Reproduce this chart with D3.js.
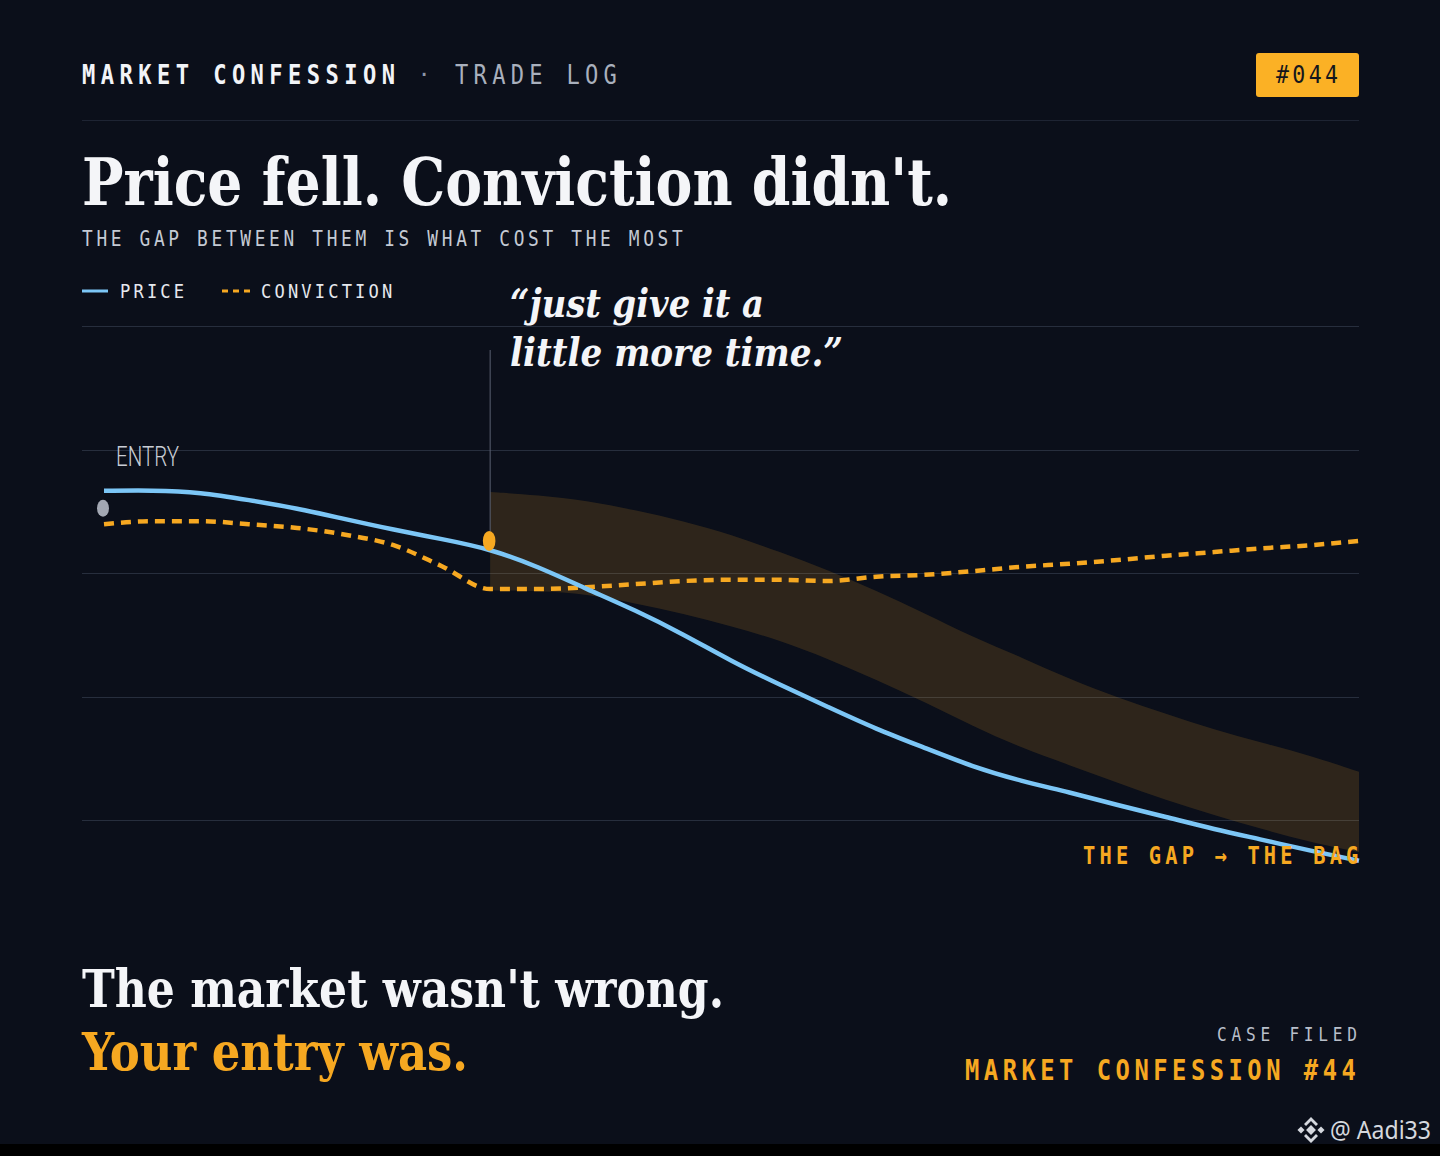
<!DOCTYPE html>
<html>
<head>
<meta charset="utf-8">
<script src="https://cdn.jsdelivr.net/npm/d3@7"></script>
<style>
  html, body { margin: 0; padding: 0; background: #000; }
  svg { display: block; }
</style>
</head>
<body>
<script>
// days since entry
var days = [0,1,2,3,4,5,6,7,8,9,10,11,12,13,14,15,16,17,18,19,20,21,22,23,24,25,26];

// price, indexed
var price = [113.3,113.4,113.1,111.8,110.5,108.7,107.0,105.5,103.9,101.0,97.4,94.0,90.1,85.7,81.9,
             78.3,74.7,71.7,68.6,66.3,64.5,62.4,60.5,58.5,56.8,55.0,53.4];

// conviction, indexed
var conviction = [107.9,108.4,108.4,107.9,107.3,106.2,104.5,101.1,97.4,97.4,97.7,98.2,98.7,98.9,98.9,
                  98.7,99.4,99.7,100.3,101.0,101.5,102.1,102.8,103.4,104.0,104.5,105.2];

// the gap band, from day 8 on
var gapDays = [8,9,10,11,12,13,14,15,16,17,18,19,20,21,22,23,24,25,26];
var gapTop = [113.1,112.6,111.7,110.2,108.4,106.2,103.4,100.5,97.1,93.5,89.6,86.4,82.8,79.8,77.2,74.6,72.5,70.4,67.8];
var gapBottom = [97.2,97.1,96.6,95.1,93.4,91.4,89.1,86.1,82.7,79.1,75.2,71.7,68.9,66.0,63.2,60.8,58.5,56.4,54.8];

var gridTicks = [60,80,100,120,140];

var entryPoint = {day: 0, value: 110.5};
var holdPoint = {day: 8, value: 105.2};

var W = 1440, H = 1156;
var bg = "#0b0f1a";
var orange = "#f6a821";
var blue = "#7cc6f6";
var serif = "'DejaVu Serif Condensed', 'DejaVu Serif', serif";
var mono = "'DejaVu Sans Mono', monospace";

// text helper; sx squeezes the text sideways, len fits it to a width
function label(g, o) {
    var t = g.append("text")
        .attr("font-family", o.family || mono)
        .attr("font-size", o.size)
        .attr("font-weight", o.weight || "normal")
        .attr("font-style", o.style || "normal")
        .attr("fill", o.fill)
        .attr("text-anchor", o.anchor || "start")
        .text(o.text);
    if (o.sx) {
        t.attr("transform", "translate(" + o.x + "," + o.y + ") scale(" + o.sx + ",1)");
    } else {
        t.attr("x", o.x).attr("y", o.y);
    }
    if (o.spacing) t.attr("letter-spacing", o.spacing);
    if (o.len) {
        t.attr("textLength", o.len).attr("lengthAdjust", "spacingAndGlyphs");
    }
    return t;
}

var svg = d3.select("body")
            .append("svg")
            .attr("width", W)
            .attr("height", H);

svg.append("rect").attr("width", W).attr("height", H).attr("fill", "#000");
svg.append("rect").attr("width", W).attr("height", 1144).attr("fill", bg);

// header
label(svg, {x: 82, y: 84, text: "MARKET CONFESSION", size: 26, weight: "bold", fill: "#f2f4f8", spacing: 6.4, sx: 0.85});
label(svg, {x: 424, y: 82, text: "\u00B7", size: 22, fill: "#8d95a6", anchor: "middle"});
label(svg, {x: 455, y: 84, text: "TRADE LOG", size: 26, fill: "#a9b0bd", spacing: 6.2, sx: 0.85});

svg.append("rect")
    .attr("x", 1256).attr("y", 53).attr("width", 103).attr("height", 44).attr("rx", 3)
    .attr("fill", "#fbb125");
label(svg, {x: 1276, y: 83, text: "#044", size: 24, fill: "#15171c", spacing: 3.7, sx: 0.9});

svg.append("line")
    .attr("x1", 82).attr("x2", 1359).attr("y1", 120.5).attr("y2", 120.5)
    .attr("stroke", "#1e2433").attr("stroke-width", 1);

// title
label(svg, {x: 82, y: 205, text: "Price fell. Conviction didn't.", family: serif, size: 66, weight: "bold", fill: "#f4f5f8", len: 870});
label(svg, {x: 82, y: 246, text: "THE GAP BETWEEN THEM IS WHAT COST THE MOST", size: 21, fill: "#c4cad4", spacing: 4.3, sx: 0.85});

// legend
svg.append("line").attr("x1", 82).attr("x2", 108).attr("y1", 291).attr("y2", 291)
    .attr("stroke", blue).attr("stroke-width", 3);
label(svg, {x: 120, y: 298, text: "PRICE", size: 19, fill: "#e6e8ee", spacing: 3.5, sx: 0.9});
svg.append("line").attr("x1", 222).attr("x2", 250).attr("y1", 291).attr("y2", 291)
    .attr("stroke", orange).attr("stroke-width", 3).attr("stroke-dasharray", "6,5");
label(svg, {x: 261, y: 298, text: "CONVICTION", size: 19, fill: "#e6e8ee", spacing: 3.5, sx: 0.9});

// scales
var x = d3.scaleLinear().domain([0, 26]).range([104, 1359]);
var y = d3.scaleLinear().domain([60, 140]).range([820, 326]);

// grid
svg.append("g")
    .selectAll("line")
    .data(gridTicks)
    .enter()
    .append("line")
    .attr("x1", 82).attr("x2", 1359)
    .attr("y1", function(d) { return Math.round(y(d)) + 0.5; })
    .attr("y2", function(d) { return Math.round(y(d)) + 0.5; })
    .attr("stroke", "#272e3d").attr("stroke-width", 1);

// gap band
var gapData = gapDays.map(function(d, i) { return {day: d, top: gapTop[i], bottom: gapBottom[i]}; });
var area = d3.area()
    .x(function(d) { return x(d.day); })
    .y0(function(d) { return y(d.bottom); })
    .y1(function(d) { return y(d.top); })
    .curve(d3.curveBasis);
svg.append("path")
    .datum(gapData)
    .attr("d", area)
    .attr("fill", orange)
    .attr("fill-opacity", 0.15);

// annotation stem
svg.append("line")
    .attr("x1", x(holdPoint.day)).attr("x2", x(holdPoint.day))
    .attr("y1", 350).attr("y2", y(holdPoint.value))
    .attr("stroke", "#5a6172").attr("stroke-width", 1);

var convLine = d3.line()
    .x(function(d) { return x(d[0]); })
    .y(function(d) { return y(d[1]); })
    .curve(d3.curveMonotoneX);

var priceLine = d3.line()
    .x(function(d) { return x(d[0]); })
    .y(function(d) { return y(d[1]); })
    .curve(d3.curveBasis);

svg.append("path")
    .datum(days.map(function(d, i) { return [d, conviction[i]]; }))
    .attr("d", convLine)
    .attr("fill", "none")
    .attr("stroke", orange)
    .attr("stroke-width", 4.5)
    .attr("stroke-dasharray", "10,7");

svg.append("path")
    .datum(days.map(function(d, i) { return [d, price[i]]; }))
    .attr("d", priceLine)
    .attr("fill", "none")
    .attr("stroke", blue)
    .attr("stroke-width", 4.5)
    .attr("stroke-linecap", "butt");

// markers
svg.append("ellipse")
    .attr("cx", x(entryPoint.day) - 1).attr("cy", y(entryPoint.value))
    .attr("rx", 6).attr("ry", 8.5)
    .attr("fill", "#a3a8b3");
svg.append("ellipse")
    .attr("cx", x(holdPoint.day) - 1).attr("cy", y(holdPoint.value))
    .attr("rx", 6.3).attr("ry", 10)
    .attr("fill", orange);

label(svg, {x: 116, y: 466, text: "ENTRY", family: "Roboto, 'DejaVu Sans', sans-serif", size: 27, weight: 300, fill: "#c9cdd5", len: 63});

// quote
label(svg, {x: 510, y: 317, text: "\u201Cjust give it a", family: serif, size: 40, weight: "bold", style: "italic", fill: "#f4f5f8", len: 254});
label(svg, {x: 510, y: 366, text: "little more time.\u201D", family: serif, size: 40, weight: "bold", style: "italic", fill: "#f4f5f8", len: 333});

label(svg, {x: 1083, y: 864, text: "THE GAP \u2192 THE BAG", size: 24, weight: 600, fill: orange, spacing: 4.9, sx: 0.85});

// closing
label(svg, {x: 82, y: 1007, text: "The market wasn't wrong.", family: serif, size: 52, weight: "bold", fill: "#f4f5f8", len: 642});
label(svg, {x: 82, y: 1070, text: "Your entry was.", family: serif, size: 52, weight: "bold", fill: orange, len: 386});

label(svg, {x: 1217, y: 1041, text: "CASE FILED", size: 19, fill: "#b9bfca", spacing: 5.6, sx: 0.85});
label(svg, {x: 965, y: 1080, text: "MARKET CONFESSION #44", size: 28, weight: "bold", fill: orange, spacing: 5.3, sx: 0.85});

// watermark
var wm = svg.append("g").attr("transform", "translate(1311,1130)").attr("fill", "#d5d8de");
wm.append("rect").attr("x", -3.5).attr("y", -3.5).attr("width", 7).attr("height", 7).attr("transform", "rotate(45)");
wm.append("rect").attr("x", -2.5).attr("y", -2.5).attr("width", 5).attr("height", 5).attr("transform", "translate(-10,0) rotate(45)");
wm.append("rect").attr("x", -2.5).attr("y", -2.5).attr("width", 5).attr("height", 5).attr("transform", "translate(10,0) rotate(45)");
wm.append("path").attr("d", "M-7,-6 L0,-13 L7,-6 L5,-4 L0,-9 L-5,-4 Z");
wm.append("path").attr("d", "M-7,6 L0,13 L7,6 L5,4 L0,9 L-5,4 Z");
label(svg, {x: 1330, y: 1139, text: "@ Aadi33", family: "'Noto Sans', sans-serif", size: 25, fill: "#d5d8de", len: 101});
</script>
</body>
</html>
